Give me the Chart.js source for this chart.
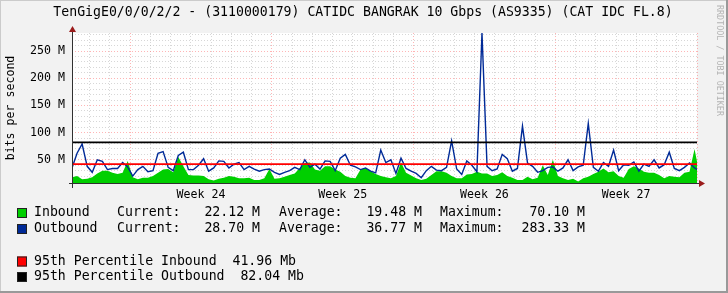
<!DOCTYPE html>
<html>
<head>
<meta charset="utf-8">
<script src="https://cdn.jsdelivr.net/npm/chart.js@4/dist/chart.umd.min.js"></script>
<style>
  body { margin: 0; background: #f2f2f2; }
  canvas { display: block; }
</style>
</head>
<body>
<canvas id="grafico" width="728" height="293"></canvas>
<script>
// dados (Mbps), um ponto a cada 6 horas
var startDay = -2.87;   // dias antes do inicio da Week 24
var stepDay = 0.25;
var inbound = [
  18, 20, 14, 15, 18, 25, 30, 30, 26, 24,
  26, 48, 18, 14, 17, 17, 20, 26, 32, 33,
  27, 55, 38, 22, 21, 21, 20, 14, 12, 15,
  17, 20, 19, 16, 16, 17, 13, 13, 16, 33,
  15, 16, 19, 22, 25, 35, 44, 45, 32, 30,
  38, 38, 32, 28, 20, 17, 16, 32, 35, 29,
  24, 20, 18, 16, 20, 45, 26, 21, 16, 13,
  15, 22, 29, 29, 26, 20, 16, 16, 23, 24,
  28, 25, 25, 20, 22, 27, 20, 17, 13, 13,
  19, 14, 17, 40, 22, 50, 20, 16, 13, 15,
  10, 16, 19, 24, 28, 34, 27, 29, 20, 17,
  33, 38, 34, 28, 26, 26, 22, 16, 20, 19,
  18, 26, 28, 70, 22
];
var outbound = [
  35, 62, 79, 38, 27, 50, 47, 32, 34, 34,
  45, 37, 20, 32, 38, 28, 30, 62, 65, 36,
  30, 58, 64, 32, 32, 40, 52, 29, 35, 48,
  47, 35, 42, 45, 32, 38, 33, 29, 32, 33,
  27, 23, 27, 30, 36, 32, 50, 36, 42, 33,
  48, 47, 30, 53, 60, 40, 37, 32, 35, 29,
  26, 68, 45, 50, 25, 53, 34, 29, 25, 17,
  30, 38, 31, 30, 36, 85, 33, 23, 48, 40,
  28, 283.33, 38, 30, 33, 60, 52, 29, 34, 112,
  44, 38, 27, 30, 36, 37, 29, 35, 50, 30,
  37, 40, 117, 36, 29, 45, 38, 68, 30, 41,
  40, 46, 29, 42, 38, 50, 35, 41, 64, 34,
  30, 36, 44, 35, 29
];
var pct95In = 41.96;
var pct95Out = 82.04;
var weekLabels = ['Week 24', 'Week 25', 'Week 26', 'Week 27'];
var seriesNames = ['Inbound', 'Outbound'];
var currentText = ['22.12 M', '28.70 M'];
var averageText = ['19.48 M', '36.77 M'];
var maximumText = ['70.10 M', '283.33 M'];

var titulo = 'TenGigE0/0/0/2/2 - (3110000179) CATIDC BANGRAK 10 Gbps (AS9335) (CAT IDC FL.8)';
var marca = 'RRDTOOL / TOBI OETIKER';

var xMin = startDay, xMax = 28;
var yMin = 7.3, yMax = 283.33;

var corIn = '#00CF00', corOut = '#002A97', corP1 = '#FF0000', corP2 = '#000000';
var mono = '"DejaVu Sans Mono", monospace';
var gridMaior = 'rgba(255,120,120,0.55)';
var gridMenor = 'rgba(175,175,175,0.5)';

function pontos(arr) {
    return arr.map(function (v, i) { return { x: startDay + i * stepDay, y: v }; });
}

// desenho de fundo, textos, eixos e legenda
var rrdPlugin = {
    id: 'rrd',
    beforeDraw: function (chart) {
        var ctx = chart.ctx, a = chart.chartArea;
        ctx.save();
        ctx.fillStyle = '#f2f2f2';
        ctx.fillRect(0, 0, chart.width, chart.height);
        ctx.fillStyle = '#ffffff';
        ctx.fillRect(a.left, a.top, a.right - a.left, a.bottom - a.top);
        ctx.restore();
    },
    afterDraw: function (chart) {
        var ctx = chart.ctx, a = chart.chartArea;
        ctx.save();

        // eixos
        ctx.strokeStyle = '#303030';
        ctx.lineWidth = 1;
        ctx.beginPath();
        ctx.moveTo(a.left + 0.5, a.top - 3);
        ctx.lineTo(a.left + 0.5, a.bottom + 5);
        ctx.moveTo(a.left - 3, a.bottom + 0.5);
        ctx.lineTo(a.right + 2, a.bottom + 0.5);
        ctx.stroke();

        // setas
        ctx.fillStyle = '#9b1c1c';
        ctx.beginPath();
        ctx.moveTo(a.left + 0.5, a.top - 7);
        ctx.lineTo(a.left - 3, a.top - 1);
        ctx.lineTo(a.left + 4, a.top - 1);
        ctx.closePath();
        ctx.fill();
        ctx.beginPath();
        ctx.moveTo(a.right + 8, a.bottom + 0.5);
        ctx.lineTo(a.right + 2, a.bottom - 3);
        ctx.lineTo(a.right + 2, a.bottom + 4);
        ctx.closePath();
        ctx.fill();

        // titulo
        ctx.fillStyle = '#000';
        ctx.font = '13.2px ' + mono;
        ctx.textAlign = 'center';
        ctx.textBaseline = 'middle';
        ctx.fillText(titulo, 363, 13);

        // marca lateral
        ctx.save();
        ctx.translate(719, 5);
        ctx.rotate(Math.PI / 2);
        ctx.font = '8.4px ' + mono;
        ctx.fillStyle = '#b4b4b4';
        ctx.textAlign = 'left';
        ctx.fillText(marca, 0, 0);
        ctx.restore();

        // legenda
        var cores = [corIn, corOut];
        var linhas = [213, 229];
        ctx.font = '13.2px ' + mono;
        for (var i = 0; i < 2; i++) {
            var y = linhas[i];
            ctx.fillStyle = cores[i];
            ctx.fillRect(17, y - 5, 10, 10);
            ctx.strokeStyle = '#222';
            ctx.strokeRect(17.5, y - 4.5, 9, 9);
            ctx.fillStyle = '#000';
            ctx.textAlign = 'left';
            ctx.fillText(seriesNames[i], 34, y);
            ctx.fillText('Current:', 117, y);
            ctx.fillText('Average:', 279, y);
            ctx.fillText('Maximum:', 440, y);
            ctx.textAlign = 'right';
            ctx.fillText(currentText[i], 260, y);
            ctx.fillText(averageText[i], 422, y);
            ctx.fillText(maximumText[i], 585, y);
        }
        var pctCores = [corP1, corP2];
        var pctTextos = [
            '95th Percentile Inbound  ' + pct95In.toFixed(2) + ' Mb',
            '95th Percentile Outbound  ' + pct95Out.toFixed(2) + ' Mb'
        ];
        var linhas2 = [261.5, 277];
        for (var j = 0; j < 2; j++) {
            ctx.fillStyle = pctCores[j];
            ctx.fillRect(17, linhas2[j] - 5, 10, 10);
            ctx.strokeStyle = '#222';
            ctx.strokeRect(17.5, linhas2[j] - 4.5, 9, 9);
            ctx.fillStyle = '#000';
            ctx.textAlign = 'left';
            ctx.fillText(pctTextos[j], 34, linhas2[j]);
        }

        // sombra da moldura
        ctx.fillStyle = '#cbcbcb';
        ctx.fillRect(0, 0, chart.width, 1);
        ctx.fillRect(0, 0, 1, chart.height);
        ctx.fillStyle = '#999999';
        ctx.fillRect(0, chart.height - 2, chart.width, 2);
        ctx.fillRect(chart.width - 2, 0, 2, chart.height);
        ctx.restore();
    }
};

var ctx = document.getElementById('grafico');

new Chart(ctx, {
    type: 'line',
    data: {
        datasets: [{
            label: 'Inbound',
            data: pontos(inbound),
            fill: 'start',
            backgroundColor: corIn,
            borderWidth: 0,
            pointRadius: 0,
            order: 4
        }, {
            label: 'Outbound',
            data: pontos(outbound),
            fill: false,
            borderColor: corOut,
            borderWidth: 1.4,
            pointRadius: 0,
            order: 3
        }, {
            label: '95th In',
            data: [{ x: xMin, y: pct95In }, { x: xMax, y: pct95In }],
            borderColor: corP1,
            borderWidth: 1.6,
            pointRadius: 0,
            order: 2
        }, {
            label: '95th Out',
            data: [{ x: xMin, y: pct95Out }, { x: xMax, y: pct95Out }],
            borderColor: corP2,
            borderWidth: 1.6,
            pointRadius: 0,
            order: 1
        }]
    },
    options: {
        responsive: false,
        animation: false,
        devicePixelRatio: 1,
        layout: { padding: { top: 33, right: 31, left: 0, bottom: 0 } },
        plugins: {
            legend: { display: false },
            tooltip: { enabled: false }
        },
        scales: {
            x: {
                type: 'linear',
                min: xMin,
                max: xMax,
                afterFit: function (s) { s.height = 110; },
                afterBuildTicks: function (s) {
                    var t = [];
                    for (var d = -2; d <= 28; d++) t.push({ value: d });
                    for (var w = 0; w < weekLabels.length; w++) t.push({ value: w * 7 + 3.5 });
                    t.sort(function (p, q) { return p.value - q.value; });
                    s.ticks = t;
                },
                grid: {
                    drawTicks: false,
                    lineWidth: 1,
                    color: function (c) {
                        var v = c.tick ? c.tick.value : 0;
                        if (!Number.isInteger(v)) return 'rgba(0,0,0,0)';
                        return v % 7 === 0 ? gridMaior : gridMenor;
                    }
                },
                border: { display: false, dash: [1, 2] },
                ticks: {
                    autoSkip: false,
                    maxRotation: 0,
                    padding: 5,
                    color: '#000',
                    font: { family: mono, size: 11.6 },
                    callback: function (v) {
                        if (Number.isInteger(v)) return '';
                        return weekLabels[Math.floor(v / 7)];
                    }
                }
            },
            y: {
                type: 'linear',
                min: yMin,
                max: yMax,
                afterFit: function (s) { s.width = 72; },
                afterBuildTicks: function (s) {
                    var t = [];
                    for (var v = 10; v <= 280; v += 10) t.push({ value: v });
                    s.ticks = t;
                },
                grid: {
                    drawTicks: false,
                    lineWidth: 1,
                    color: function (c) {
                        var v = c.tick ? c.tick.value : 0;
                        return v % 50 === 0 ? gridMaior : gridMenor;
                    }
                },
                border: { display: false, dash: [1, 2] },
                title: {
                    display: true,
                    text: 'bits per second',
                    color: '#000',
                    font: { family: mono, size: 11.6 },
                    padding: { top: 4, bottom: 0 }
                },
                ticks: {
                    autoSkip: false,
                    padding: 7,
                    color: '#000',
                    font: { family: mono, size: 11.6 },
                    callback: function (v) {
                        return v % 50 === 0 ? v + ' M' : '';
                    }
                }
            }
        }
    },
    plugins: [rrdPlugin]
});
</script>
</body>
</html>
